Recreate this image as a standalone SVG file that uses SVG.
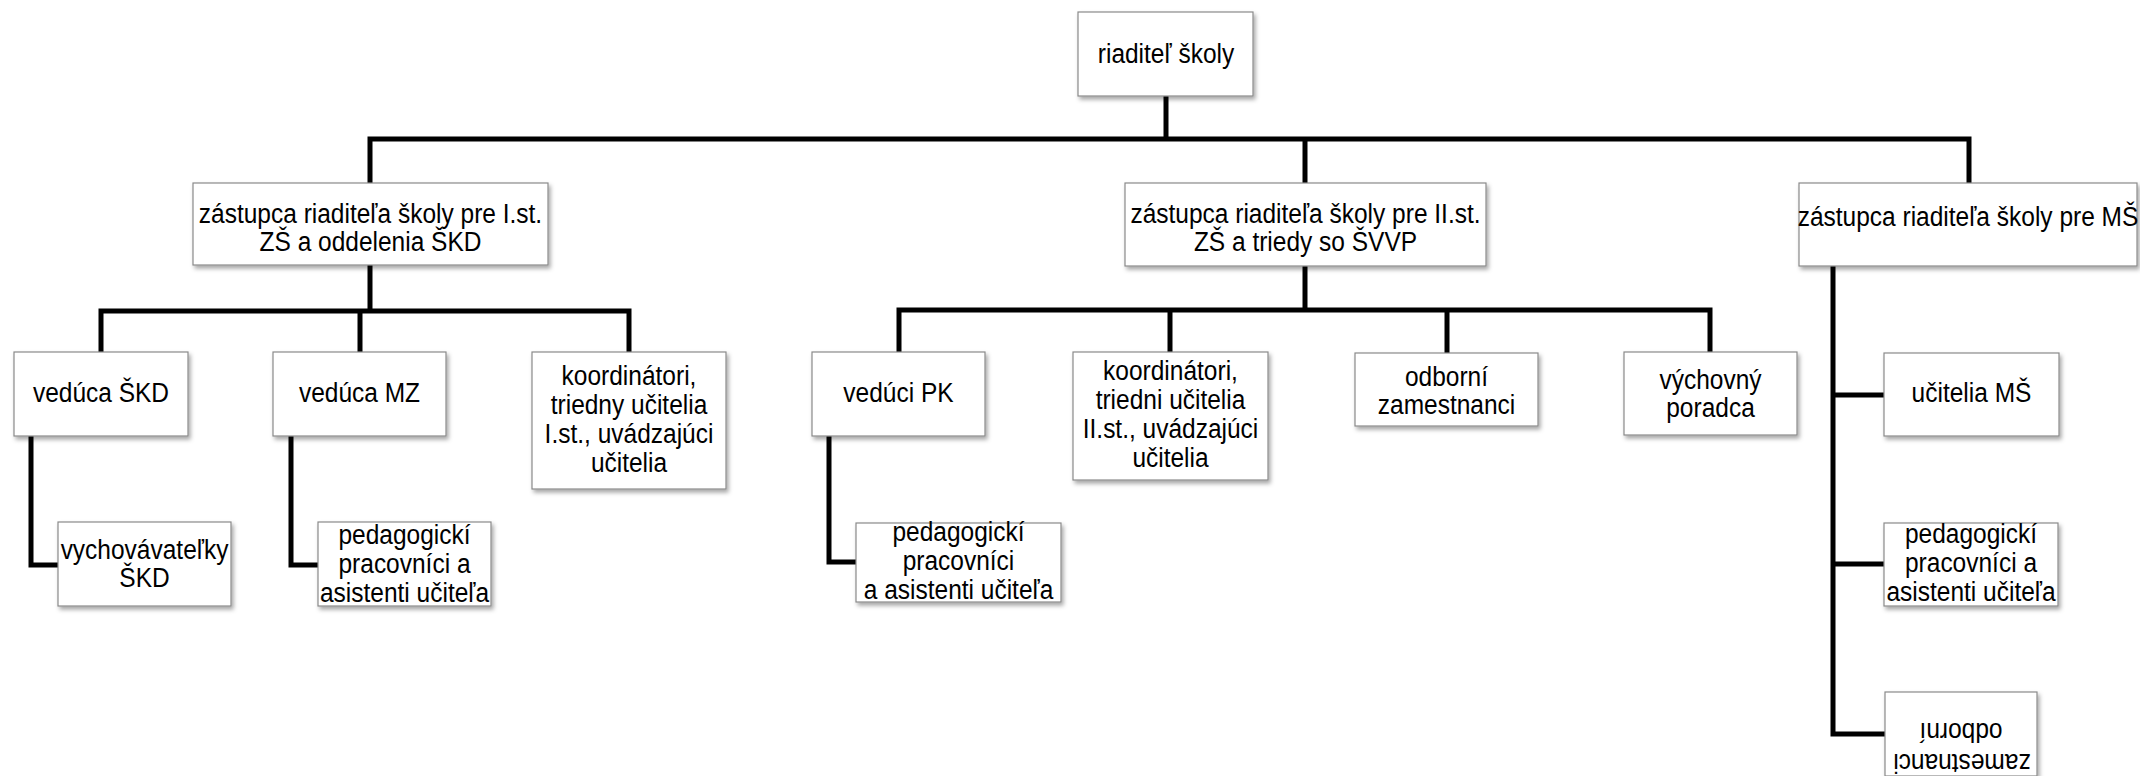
<svg xmlns="http://www.w3.org/2000/svg" width="2140" height="776" viewBox="0 0 2140 776">
<defs>
<filter id="sh" x="-10%" y="-10%" width="125%" height="135%">
<feDropShadow dx="2" dy="3" stdDeviation="2" flood-color="#000" flood-opacity="0.35"/>
</filter>
<style>
.box{fill:#fff;stroke:#8a8a8a;stroke-width:1.2;filter:url(#sh)}
.t{font-family:"Liberation Sans",Arial,sans-serif;font-size:28px;fill:#000;text-anchor:middle}
.c{fill:none;stroke:#000;stroke-width:5;stroke-linejoin:miter;stroke-linecap:butt}
</style>
</defs>
<rect width="2140" height="776" fill="#fff"/>
<g id="connectors" class="c">
<path d="M1166,96 V139"/>
<path d="M370,183 V139 H1969 V183"/>
<path d="M1305,139 V183"/>
<path d="M370,265 V311"/>
<path d="M101,352 V311 H629 V352"/>
<path d="M360,311 V352"/>
<path d="M1305,266 V310"/>
<path d="M899,352 V310 H1710 V352"/>
<path d="M1170,310 V352"/>
<path d="M1447,310 V353"/>
<path d="M1833,266 V734 H1885"/>
<path d="M1833,395 H1884"/>
<path d="M1833,564 H1884"/>
<path d="M31,436 V565 H58"/>
<path d="M291,436 V565 H318"/>
<path d="M829,436 V562 H856"/>
</g>
<g id="n0"><rect class="box" x="1078" y="12" width="175" height="84"/>
<text class="t" transform="translate(1166 0) scale(.875 1)"><tspan x="0" y="63">riaditeľ školy</tspan></text></g>
<g id="n1"><rect class="box" x="193" y="183" width="355" height="82"/>
<text class="t" transform="translate(370.5 0) scale(.875 1)"><tspan x="0" y="223">zástupca riaditeľa školy pre I.st.</tspan><tspan x="0" y="251">ZŠ a oddelenia ŠKD</tspan></text></g>
<g id="n2"><rect class="box" x="1125" y="183" width="361" height="83"/>
<text class="t" transform="translate(1305.5 0) scale(.875 1)"><tspan x="0" y="223">zástupca riaditeľa školy pre II.st.</tspan><tspan x="0" y="251">ZŠ a triedy so ŠVVP</tspan></text></g>
<g id="n3"><rect class="box" x="1799" y="183" width="338" height="83"/>
<text class="t" transform="translate(1968 0) scale(.875 1)"><tspan x="0" y="226">zástupca riaditeľa školy pre MŠ</tspan></text></g>
<g id="n4"><rect class="box" x="14" y="352" width="174" height="84"/>
<text class="t" transform="translate(101 0) scale(.875 1)"><tspan x="0" y="402">vedúca ŠKD</tspan></text></g>
<g id="n5"><rect class="box" x="273" y="352" width="173" height="84"/>
<text class="t" transform="translate(359.5 0) scale(.875 1)"><tspan x="0" y="402">vedúca MZ</tspan></text></g>
<g id="n6"><rect class="box" x="532" y="352" width="194" height="137"/>
<text class="t" transform="translate(629 0) scale(.875 1)"><tspan x="0" y="385">koordinátori,</tspan><tspan x="0" y="414">triedny učitelia</tspan><tspan x="0" y="443">I.st., uvádzajúci</tspan><tspan x="0" y="472">učitelia</tspan></text></g>
<g id="n7"><rect class="box" x="58" y="522" width="173" height="84"/>
<text class="t" transform="translate(144.5 0) scale(.875 1)"><tspan x="0" y="559">vychovávateľky</tspan><tspan x="0" y="587">ŠKD</tspan></text></g>
<g id="n8"><rect class="box" x="318" y="522" width="173" height="84"/>
<text class="t" transform="translate(404.5 0) scale(.875 1)"><tspan x="0" y="544">pedagogickí</tspan><tspan x="0" y="573">pracovníci a</tspan><tspan x="0" y="602">asistenti učiteľa</tspan></text></g>
<g id="n9"><rect class="box" x="812" y="352" width="173" height="84"/>
<text class="t" transform="translate(898.5 0) scale(.875 1)"><tspan x="0" y="402">vedúci PK</tspan></text></g>
<g id="n10"><rect class="box" x="1073" y="352" width="195" height="128"/>
<text class="t" transform="translate(1170.5 0) scale(.875 1)"><tspan x="0" y="380">koordinátori,</tspan><tspan x="0" y="409">triedni učitelia</tspan><tspan x="0" y="438">II.st., uvádzajúci</tspan><tspan x="0" y="467">učitelia</tspan></text></g>
<g id="n11"><rect class="box" x="1355" y="353" width="183" height="73"/>
<text class="t" transform="translate(1446.5 0) scale(.875 1)"><tspan x="0" y="386">odborní</tspan><tspan x="0" y="414">zamestnanci</tspan></text></g>
<g id="n12"><rect class="box" x="1624" y="352" width="173" height="83"/>
<text class="t" transform="translate(1710.5 0) scale(.875 1)"><tspan x="0" y="389">výchovný</tspan><tspan x="0" y="417">poradca</tspan></text></g>
<g id="n13"><rect class="box" x="856" y="523" width="205" height="79"/>
<text class="t" transform="translate(958.5 0) scale(.875 1)"><tspan x="0" y="541">pedagogickí</tspan><tspan x="0" y="570">pracovníci</tspan><tspan x="0" y="599">a asistenti učiteľa</tspan></text></g>
<g id="n14"><rect class="box" x="1884" y="353" width="175" height="83"/>
<text class="t" transform="translate(1971.5 0) scale(.875 1)"><tspan x="0" y="402">učitelia MŠ</tspan></text></g>
<g id="n15"><rect class="box" x="1884" y="523" width="174" height="83"/>
<text class="t" transform="translate(1971 0) scale(.875 1)"><tspan x="0" y="543">pedagogickí</tspan><tspan x="0" y="572">pracovníci a</tspan><tspan x="0" y="601">asistenti učiteľa</tspan></text></g>
<g id="n16"><rect class="box" x="1885" y="692" width="152" height="84"/>
<text class="t" transform="translate(1961 723) rotate(180) scale(.875 1)">odborní</text>
<text class="t" transform="translate(1962 754) rotate(180) scale(.875 1)">zamestnanci</text></g>
</svg>
